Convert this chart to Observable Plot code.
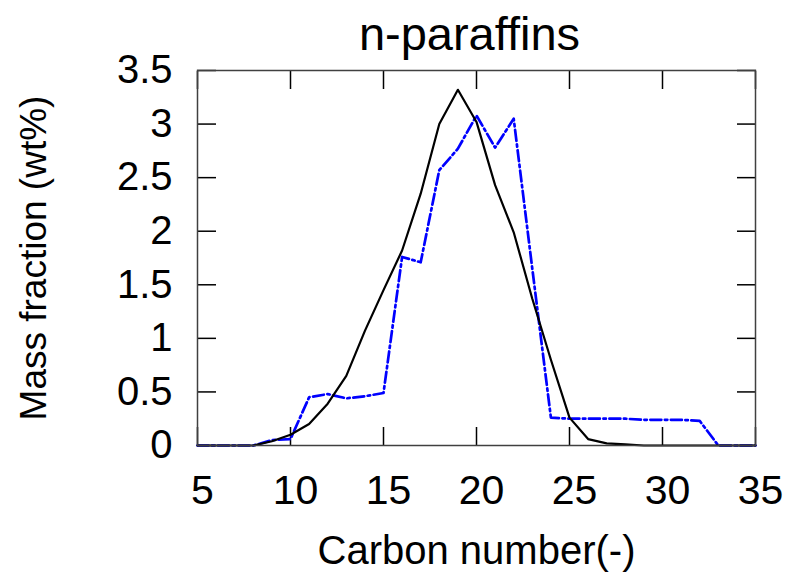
<!DOCTYPE html>
<html><head><meta charset="utf-8">
<script src="https://cdn.jsdelivr.net/npm/d3@7"></script>
<script src="https://cdn.jsdelivr.net/npm/@observablehq/plot@0.6"></script>
<style>html,body{margin:0;padding:0;background:#fff} svg{display:block;font-family:'Liberation Sans', Arial, Helvetica, sans-serif}</style>
</head><body><div id="chart"></div>
<script>
const carbonNumber = [5,6,7,8,9,10,11,12,13,14,15,16,17,18,19,20,21,22,23,24,25,26,27,28,29,30,31,32,33,34,35];
const modelFraction = [0,0,0,0,0.04,0.1,0.2,0.39,0.65,1.07,1.45,1.82,2.35,3.0,3.32,3.02,2.43,1.99,1.37,0.8,0.26,0.06,0.02,0.01,0,0,0,0,0,0,0];
const measuredFraction = [0,0,0,0,0.05,0.06,0.45,0.48,0.44,0.46,0.49,1.76,1.71,2.57,2.77,3.08,2.78,3.05,1.65,0.26,0.25,0.25,0.25,0.25,0.24,0.24,0.24,0.23,0,0,0];
const xTicks = [5,10,15,20,25,30,35];
const yTicks = [0,0.5,1,1.5,2,2.5,3,3.5];
const xDomain = [5, 35];
const yDomain = [0, 3.5];
const title = "n-paraffins";
const xLabel = "Carbon number(-)";
const yLabel = "Mass fraction (wt%)";

const rows = carbonNumber.map((c, i) => ({c, model: modelFraction[i], measured: measuredFraction[i]}));

const W = 789, H = 575, mL = 197, mR = 34, mT = 70, mB = 130;
const tickColor = "black";

function tickMarks() {
  const m = [];
  if (typeof Plot.axisX === "function") {
    m.push(Plot.axisX(xTicks, {anchor: "bottom", tickSize: -18, tickFormat: () => "", label: null, color: tickColor, strokeWidth: 1.5}));
    m.push(Plot.axisX(xTicks, {anchor: "top", tickSize: -18, tickFormat: () => "", label: null, color: tickColor, strokeWidth: 1.5}));
    m.push(Plot.axisY(yTicks, {anchor: "left", tickSize: -19, tickFormat: () => "", label: null, color: tickColor, strokeWidth: 1.5}));
    m.push(Plot.axisY(yTicks, {anchor: "right", tickSize: -19, tickFormat: () => "", label: null, color: tickColor, strokeWidth: 1.5}));
  }
  return m;
}

function baseMarks() {
  return [
    Plot.line(rows, {x: "c", y: "measured", stroke: "blue", strokeWidth: 2.7, strokeDasharray: "11,3.5,2.5,3.5"}),
    Plot.line(rows, {x: "c", y: "model", stroke: "black", strokeWidth: 2.2}),
    Plot.frame({stroke: "#404040", strokeWidth: 1.5}),
    Plot.text(xTicks, {x: d => d, text: d => String(d), frameAnchor: "bottom", textAnchor: "middle", lineAnchor: "middle", dy: 45, dx: 5, fontSize: 41, fill: "black"}),
    Plot.text(yTicks, {y: d => d, text: d => String(d), frameAnchor: "left", textAnchor: "end", lineAnchor: "middle", dx: -25, fontSize: 40, fill: "black"}),
    Plot.text([title], {frameAnchor: "top", text: d => d, textAnchor: "middle", lineAnchor: "middle", dy: -36, dx: -7, fontSize: 47, fill: "black"}),
    Plot.text([xLabel], {frameAnchor: "bottom", text: d => d, textAnchor: "middle", lineAnchor: "middle", dy: 106, fontSize: 40, fill: "black"}),
    Plot.text([yLabel], {frameAnchor: "left", text: d => d, textAnchor: "middle", lineAnchor: "middle", rotate: -90, dx: -163, fontSize: 37, fill: "black"})
  ];
}

function build(withAxes) {
  return Plot.plot({
    width: W, height: H,
    marginLeft: mL, marginRight: mR, marginTop: mT, marginBottom: mB,
    x: {domain: xDomain, axis: null, label: null},
    y: {domain: yDomain, axis: null, label: null},
    marks: [...(withAxes ? tickMarks() : []), ...baseMarks()]
  });
}

let chart;
try { chart = build(true); } catch (e) { chart = build(false); }
document.getElementById("chart").appendChild(chart);
</script>
</body></html>
